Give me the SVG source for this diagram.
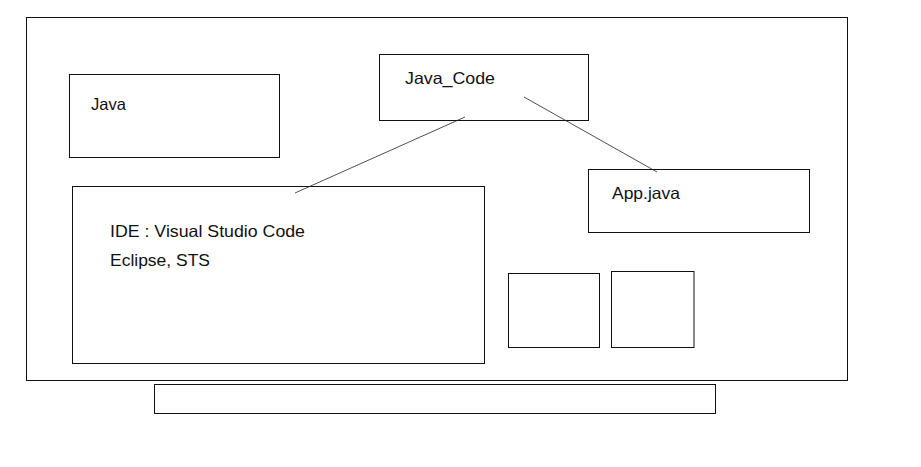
<svg xmlns="http://www.w3.org/2000/svg" width="921" height="467" viewBox="0 0 921 467">
<style>
.box{fill:#fff;stroke:#111;stroke-width:1}
.lbl{font-family:"Liberation Sans",Arial,sans-serif;font-size:16.5px;fill:#111}
.conn{stroke:#222;stroke-width:0.8;fill:none}
</style>
<rect width="921" height="467" fill="#fff"/>
<g id="frame"><rect class="box" x="26.5" y="17.5" width="821" height="363"/></g>
<g id="java"><rect class="box" x="69.5" y="74.5" width="210" height="83"/><text class="lbl" x="91" y="110" textLength="35" lengthAdjust="spacingAndGlyphs">Java</text></g>
<g id="java_code"><rect class="box" x="379.5" y="54.5" width="209" height="66"/><text class="lbl" x="405" y="84" textLength="90" lengthAdjust="spacingAndGlyphs">Java_Code</text></g>
<g id="ide"><rect class="box" x="72.5" y="186.5" width="412" height="177"/><text class="lbl" x="110" y="237" textLength="195" lengthAdjust="spacingAndGlyphs">IDE : Visual Studio Code</text><text class="lbl" x="110" y="265.5" textLength="100" lengthAdjust="spacingAndGlyphs">Eclipse, STS</text></g>
<g id="app_java"><rect class="box" x="588.5" y="169.5" width="221" height="63"/><text class="lbl" x="612" y="199" textLength="68" lengthAdjust="spacingAndGlyphs">App.java</text></g>
<g id="small1"><rect class="box" x="508.5" y="273.5" width="91" height="74"/></g>
<g id="small2"><rect class="box" x="611.5" y="271.5" width="82.5" height="76"/></g>
<g id="bar"><rect class="box" x="154.5" y="384.5" width="561" height="29"/></g>
<g id="connectors">
<line class="conn" x1="295" y1="193" x2="465" y2="117"/>
<line class="conn" x1="524" y1="97" x2="657" y2="172"/>
</g>
</svg>
